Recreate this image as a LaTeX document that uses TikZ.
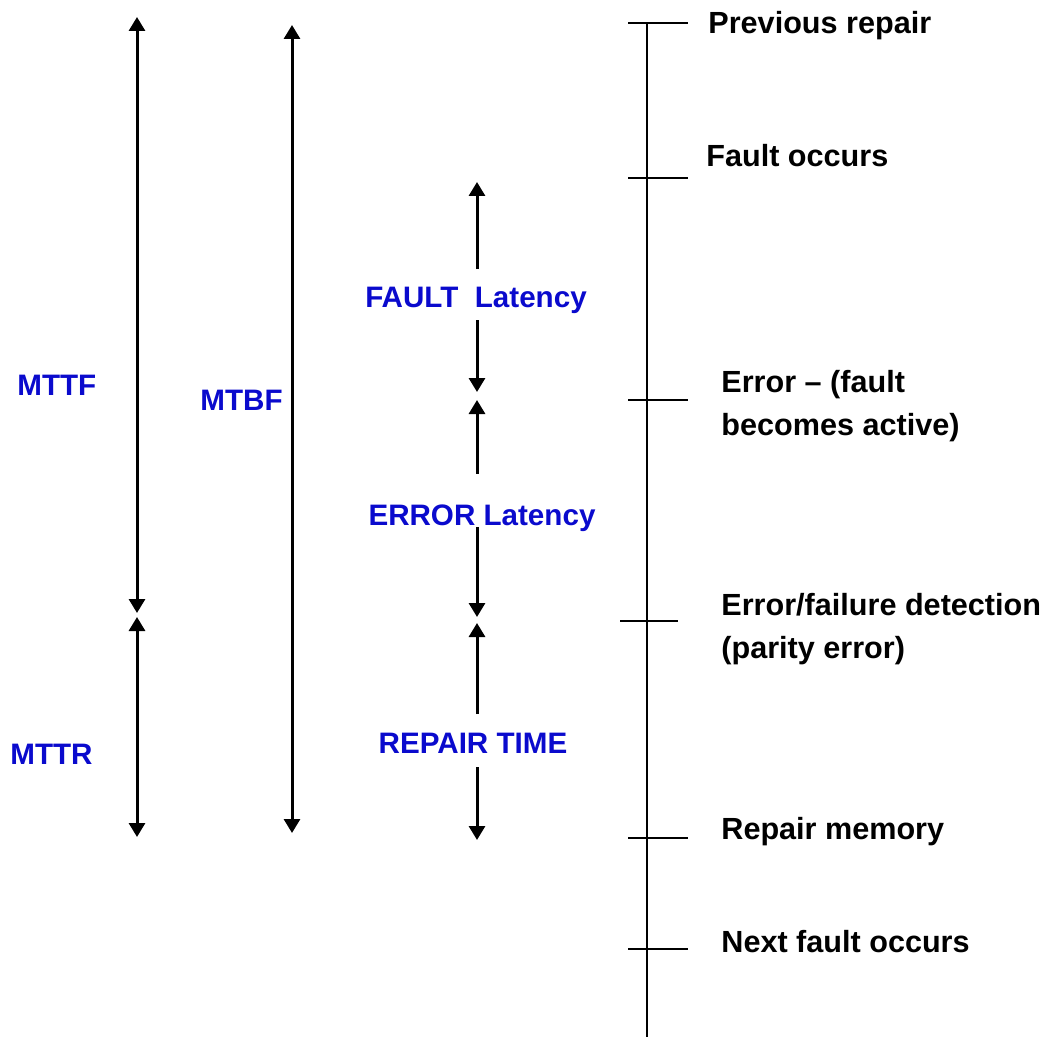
\documentclass[tikz,border=0pt]{standalone}
\usepackage{fontspec}
\setmainfont{Liberation Sans}
\usepackage{xcolor}
\usetikzlibrary{arrows.meta, positioning}
\definecolor{mtblue}{RGB}{10,10,205}

\begin{document}
\begin{tikzpicture}[x=0.5pt, y=-0.5pt,
    event/.style={anchor=base west, align=left, inner sep=0pt, font=\fontsize{15.3}{21.5}\selectfont\bfseries},
    span/.style={text=mtblue, inner sep=0pt, text depth=0pt, font=\fontsize{14.8}{18}\selectfont\bfseries},
    dbl/.style={line width=1.5pt, {Triangle[width=8pt,length=7pt]}-{Triangle[width=8pt,length=7pt]}},
    half/.style={line width=1.5pt, -{Triangle[width=8pt,length=7pt]}},
    tick/.style={line width=0.8pt}]
  \useasboundingbox (0,0) rectangle (1042,1037);

  % time line and its events
  \coordinate (tl-top) at (647,23);
  \coordinate (tl-end) at (647,1037);
  \draw[line width=1pt] (tl-top) -- (tl-end);
  \foreach \y/\l/\r in {23/628/688, 178/628/688, 400/628/688, 621/620/678, 838/628/688, 949/628/688}
    \draw[tick] (\l,\y) -- (\r,\y);

  % two-line labels sit on the base of their last line
  \node[event] (prev) at (708,34) {Previous repair};
  \node[event] (fault) at (706,167) {Fault occurs};
  \node[event] (err) at (721,435) {Error – (fault\\becomes active)};
  \node[event] (det) at (721,658) {Error/failure detection\\(parity error)};
  \node[event] (rep) at (721,839) {Repair memory};
  \node[event] (next) at (721,952) {Next fault occurs};

  % mean times
  \coordinate (mttf-a) at (137,17);
  \coordinate (mttf-b) at (137,613);
  \coordinate (mttr-a) at (137,617);
  \coordinate (mttr-b) at (137,837);
  \coordinate (mtbf-a) at (292,25);
  \coordinate (mtbf-b) at (292,833);
  \node[span, anchor=base west] (mttf) at (17,395) {MTTF};
  \node[span, anchor=base west] (mttr) at (10,764) {MTTR};
  \node[span, anchor=base west] (mtbf) at (200,410) {MTBF};
  \draw[dbl] (mttf-a) -- (mttf-b);
  \draw[dbl] (mttr-a) -- (mttr-b);
  \draw[dbl] (mtbf-a) -- (mtbf-b);

  % latencies
  \coordinate (fl-a) at (477,182);
  \coordinate (fl-b) at (477,392);
  \coordinate (el-a) at (477,400);
  \coordinate (el-b) at (477,617);
  \coordinate (rt-a) at (477,623);
  \coordinate (rt-b) at (477,840);
  \node[span, anchor=base] (flat) at (476,307) {FAULT\ \ Latency};
  \node[span, anchor=base] (elat) at (482,525) {ERROR Latency};
  \node[span, anchor=base] (rtime) at (473,753) {REPAIR TIME};
  \draw[half] ([yshift=8.5pt]flat.north -| fl-a) -- (fl-a);
  \draw[half] ([yshift=-6.5pt]flat.south -| fl-b) -- (fl-b);
  \draw[half] ([yshift=15pt]elat.north -| el-a) -- (el-a);
  \draw[half] ([yshift=-1pt]elat.south -| el-b) -- (el-b);
  \draw[half] ([yshift=9pt]rtime.north -| rt-a) -- (rt-a);
  \draw[half] ([yshift=-7pt]rtime.south -| rt-b) -- (rt-b);
\end{tikzpicture}
\end{document}
